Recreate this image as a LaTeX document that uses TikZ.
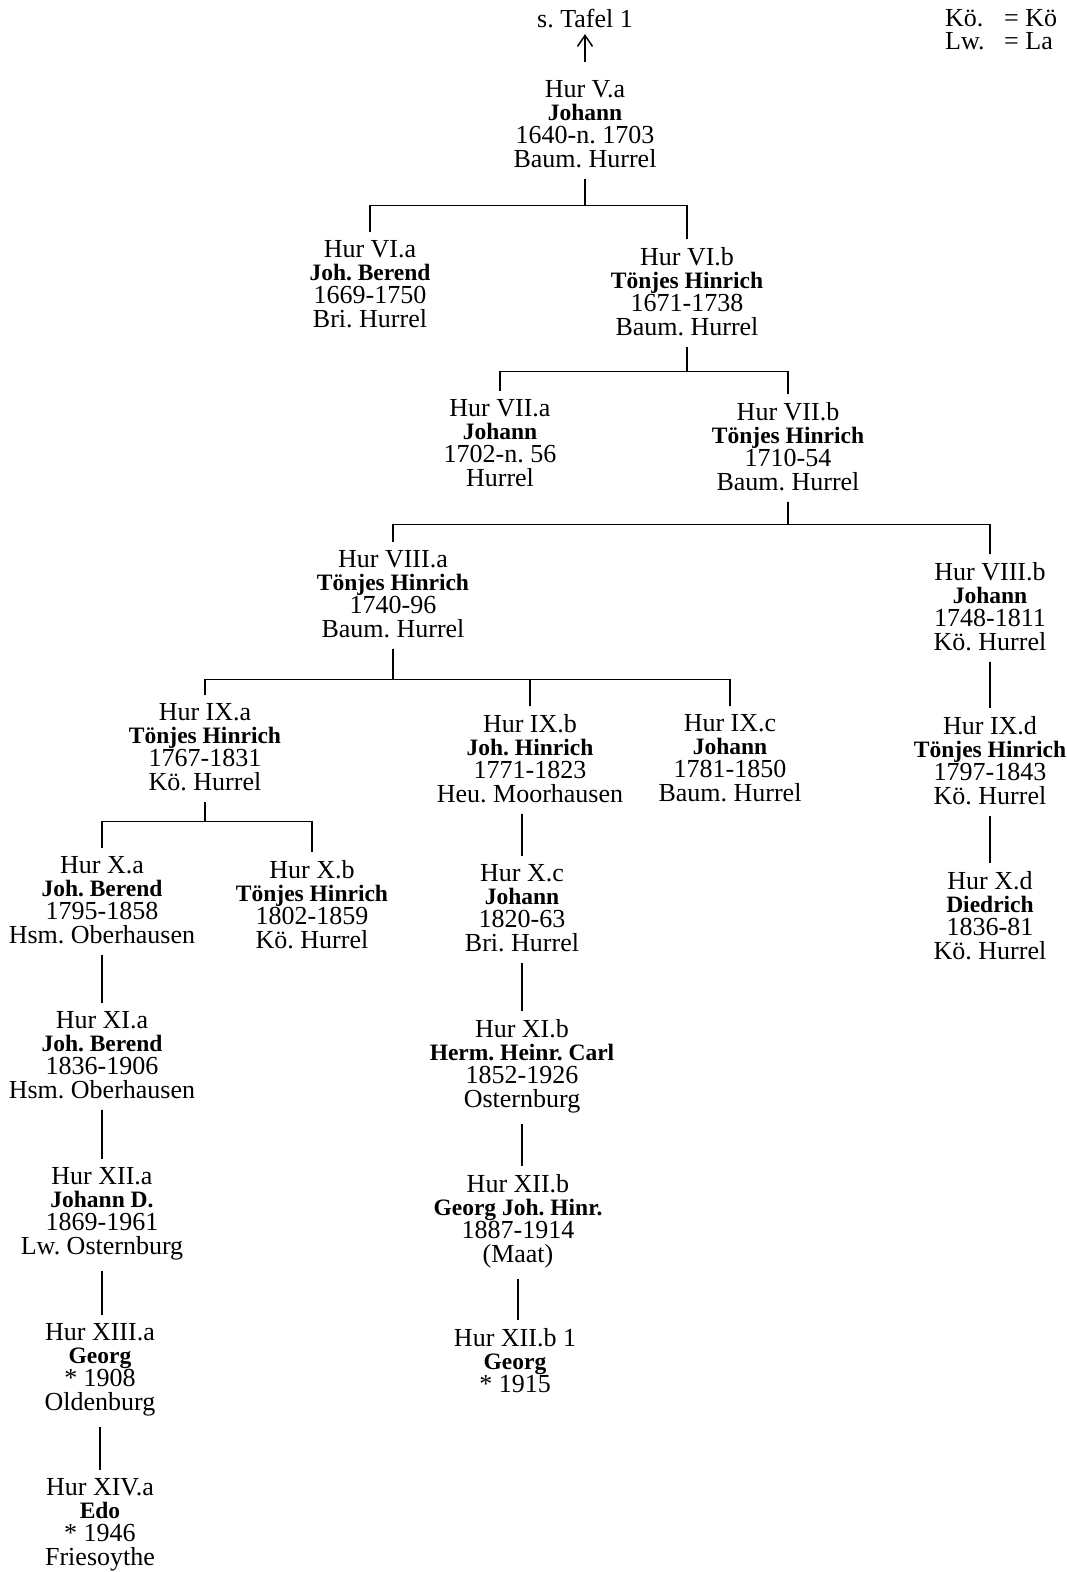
\documentclass[tikz,border=0pt]{standalone}
\usepackage{fontspec}
\setmainfont{Liberation Serif}
\usepackage{tikz}
\usetikzlibrary{arrows.meta}
\lineskiplimit=-30pt
\frenchspacing
\newcommand{\nm}[1]{{\fontsize{23.5}{23.3}\selectfont\bfseries #1}}

\begin{document}
\begin{tikzpicture}[x=1pt,y=-1pt,
      link/.style={line width=1.5pt, shorten <=11pt, shorten >=8pt},
      up/.style={line width=1.5pt, -{Straight Barb[length=11pt,width=15pt]}}]
      \tikzstyle{every node}=[align=center,inner sep=0pt,anchor=north,
        font=\fontsize{26}{23.3}\selectfont\frenchspacing]
      \useasboundingbox (0,0) rectangle (1067,1572);
      % legend
      \node[anchor=north west] (koe) at (945,9) {Kö.};
      \node[anchor=north west] (koeT) at (1004,9) {= Kö};
      \node[anchor=north west] (lw) at (945,32) {Lw.};
      \node[anchor=north west] (lwT) at (1004,32) {= La};
      % generations
      \node (Tafel) at (585,9) {s. Tafel 1};
      \node (Va) at (585,80) {Hur V.a\\\nm{Johann}\\1640-n. 1703\\Baum. Hurrel};
      \node (VIa) at (370,240) {Hur VI.a\\\nm{Joh. Berend}\\1669-1750\\Bri. Hurrel};
      \node (VIb) at (687,247) {Hur VI.b\\\nm{Tönjes Hinrich}\\1671-1738\\Baum. Hurrel};
      \node (VIIa) at (500,399) {Hur VII.a\\\nm{Johann}\\1702-n. 56\\Hurrel};
      \node (VIIb) at (788,402) {Hur VII.b\\\nm{Tönjes Hinrich}\\1710-54\\Baum. Hurrel};
      \node (VIIIa) at (393,550) {Hur VIII.a\\\nm{Tönjes Hinrich}\\1740-96\\Baum. Hurrel};
      \node (VIIIb) at (990,562) {Hur VIII.b\\\nm{Johann}\\1748-1811\\Kö. Hurrel};
      \node (IXa) at (205,703) {Hur IX.a\\\nm{Tönjes Hinrich}\\1767-1831\\Kö. Hurrel};
      \node (IXb) at (530,714) {Hur IX.b\\\nm{Joh. Hinrich}\\1771-1823\\Heu. Moorhausen};
      \node (IXc) at (730,714) {Hur IX.c\\\nm{Johann}\\1781-1850\\Baum. Hurrel};
      \node (IXd) at (990,716) {Hur IX.d\\\nm{Tönjes Hinrich}\\1797-1843\\Kö. Hurrel};
      \node (Xa) at (102,856) {Hur X.a\\\nm{Joh. Berend}\\1795-1858\\Hsm. Oberhausen};
      \node (Xb) at (312,860) {Hur X.b\\\nm{Tönjes Hinrich}\\1802-1859\\Kö. Hurrel};
      \node (Xc) at (522,864) {Hur X.c\\\nm{Johann}\\1820-63\\Bri. Hurrel};
      \node (Xd) at (990,871) {Hur X.d\\\nm{Diedrich}\\1836-81\\Kö. Hurrel};
      \node (XIa) at (102,1011) {Hur XI.a\\\nm{Joh. Berend}\\1836-1906\\Hsm. Oberhausen};
      \node (XIb) at (522,1019) {Hur XI.b\\\nm{Herm. Heinr. Carl}\\1852-1926\\Osternburg};
      \node (XIIa) at (102,1167) {Hur XII.a\\\nm{Johann D.}\\1869-1961\\Lw. Osternburg};
      \node (XIIb) at (518,1174) {Hur XII.b\\\nm{Georg Joh. Hinr.}\\1887-1914\\(Maat)};
      \node (XIIIa) at (100,1323) {Hur XIII.a\\\nm{Georg}\\* 1908\\Oldenburg};
      \node (XIIbi) at (515,1328) {Hur XII.b 1\\\nm{Georg}\\* 1915};
      \node (XIVa) at (100,1478) {Hur XIV.a\\\nm{Edo}\\* 1946\\Friesoythe};
      % connectors
      \draw[up, shorten <=18pt, shorten >=6pt] (Va.north) -- (Tafel.south);
      \draw[link] (Va.south) -- ++(0,38) -| (VIa.north);
      \draw[link] (Va.south) -- ++(0,38) -| (VIb.north);
      \draw[link] (VIb.south) -- ++(0,36) -| (VIIa.north);
      \draw[link] (VIb.south) -- ++(0,36) -| (VIIb.north);
      \draw[link] (VIIb.south) -- ++(0,34) -| (VIIIa.north);
      \draw[link] (VIIb.south) -- ++(0,34) -| (VIIIb.north);
      \draw[link] (VIIIa.south) -- ++(0,42) -| (IXa.north);
      \draw[link] (VIIIa.south) -- ++(0,42) -| (IXb.north);
      \draw[link] (VIIIa.south) -- ++(0,42) -| (IXc.north);
      \draw[link] (IXa.south) -- ++(0,31) -| (Xa.north);
      \draw[link] (IXa.south) -- ++(0,31) -| (Xb.north);
      \draw[link] (VIIIb.south) -- (IXd.north);
      \draw[link] (IXd.south) -- (Xd.north);
      \draw[link] (IXb.south -| Xc.north) -- (Xc.north);
      \draw[link] (Xc.south) -- (XIb.north);
      \draw[link] (XIb.south) -- (XIb.south |- XIIb.north);
      \draw[link] (XIIb.south) -- (XIIb.south |- XIIbi.north);
      \draw[link] (Xa.south) -- (XIa.north);
      \draw[link] (XIa.south) -- (XIIa.north);
      \draw[link] (XIIa.south) -- (XIIa.south |- XIIIa.north);
      \draw[link] (XIIIa.south) -- (XIVa.north);
\end{tikzpicture}
\end{document}
